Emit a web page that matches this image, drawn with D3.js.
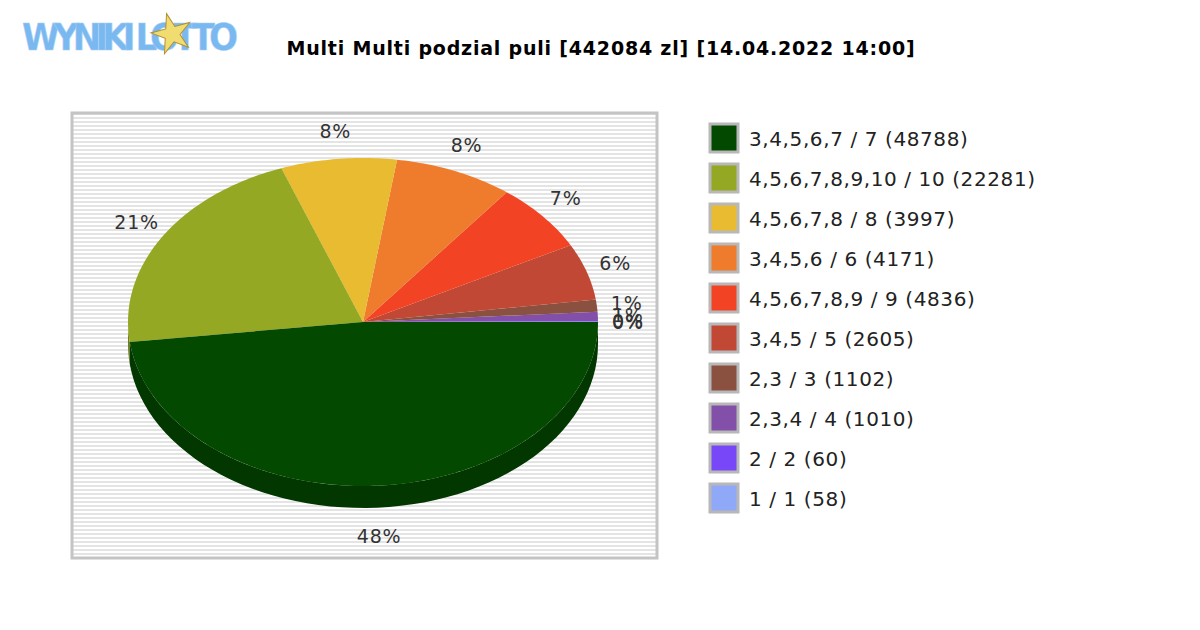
<!DOCTYPE html>
<html><head><meta charset="utf-8">
<script src="https://cdn.jsdelivr.net/npm/d3@7"></script>
<style>body{margin:0;background:#fff}svg{display:block}</style>
</head><body>
<svg id="c" width="1200" height="630"></svg>
<script>
const legendLabels = ["3,4,5,6,7 / 7 (48788)","4,5,6,7,8,9,10 / 10 (22281)","4,5,6,7,8 / 8 (3997)","3,4,5,6 / 6 (4171)","4,5,6,7,8,9 / 9 (4836)","3,4,5 / 5 (2605)","2,3 / 3 (1102)","2,3,4 / 4 (1010)","2 / 2 (60)","1 / 1 (58)"];
const shares = [48.3, 21.4, 8.0, 8.2, 6.8, 5.6, 1.2, 0.9, 0.05, 0.05];
const colors = ["#034a00","#95a824","#e8bb30","#ee7c2c","#f24424","#c04834","#8a5040","#8250a8","#7848f8","#90a8f8"];
const title = "Multi Multi podzial puli [442084 zl] [14.04.2022 14:00]";

const svg = d3.select("#c");
svg.append("text").attr("x",22).attr("y",50).attr("font-family","DejaVu Sans Condensed, DejaVu Sans").attr("font-weight","bold")
  .attr("font-size",38).attr("fill","#7ab8f0").attr("stroke","#a8d0f8").attr("stroke-width",0.5).attr("textLength",216).text("WYNIKI LOTTO");
svg.append("path").attr("d",d3.symbol(d3.symbolStar,500)()).attr("transform","translate(172,34) rotate(-15)").attr("fill","#f0dc70").attr("stroke","#b09030");
svg.append("text").attr("x",601).attr("y",55).attr("text-anchor","middle").attr("font-family","DejaVu Sans").attr("font-weight","bold").attr("font-size",19).attr("letter-spacing",0.8).text(title);

const bx=72, by=113, bw=585, bh=445;
for(let y=by; y<by+bh; y+=4){
  svg.append("rect").attr("x",bx).attr("y",y).attr("width",bw).attr("height",2).attr("fill","#e4e4e4");
}
svg.append("rect").attr("x",bx).attr("y",by).attr("width",bw).attr("height",bh).attr("fill","none").attr("stroke","#c4c4c4").attr("stroke-width",3);

const cx=363, cy=322, rx=235, ry=164, depth=22;
const total = d3.sum(shares);
const ang = d3.scaleLinear().domain([0,total]).range([0,2*Math.PI]);
const order = d3.range(shares.length).reverse();
let acc=0; const slices=[];
order.forEach(i=>{ slices.push({i, a0:ang(acc), a1:ang(acc+shares[i])}); acc+=shares[i]; });
const pt=(a,dy=0)=>[cx+rx*Math.cos(a), cy-ry*Math.sin(a)+dy];
const g=svg.append("g");
slices.forEach(s=>{
  const lo=Math.max(s.a0,Math.PI), hi=Math.min(s.a1,2*Math.PI);
  if(hi<=lo) return;
  const n=60, top=[], bot=[];
  for(let k=0;k<=n;k++){ const a=lo+(hi-lo)*k/n; top.push(pt(a)); bot.push(pt(a,depth)); }
  const p=top.concat(bot.reverse());
  g.append("path").attr("d",d3.line()(p)+"Z").attr("fill",d3.color(colors[s.i]).darker(0.8));
});
slices.forEach(s=>{
  const n=Math.max(4,Math.ceil((s.a1-s.a0)*60)); const p=[[cx,cy]];
  for(let k=0;k<=n;k++) p.push(pt(s.a0+(s.a1-s.a0)*k/n));
  g.append("path").attr("d",d3.line()(p)+"Z").attr("fill",colors[s.i]);
});
slices.forEach(s=>{
  const m=(s.a0+s.a1)/2;
  const x=cx+(rx+30)*Math.cos(m), y=cy-(ry+28)*Math.sin(m)+(Math.sin(m)<0?depth:0)+7;
  g.append("text").attr("x",x).attr("y",y).attr("text-anchor","middle").attr("font-family","DejaVu Sans").attr("font-size",19).attr("letter-spacing",0.8).attr("fill","#333")
    .text(Math.round(shares[s.i])+"%");
});

const lg=svg.append("g");
legendLabels.forEach((t,i)=>{
  const y=124+i*40;
  lg.append("rect").attr("x",710).attr("y",y).attr("width",28).attr("height",28).attr("fill",colors[i]).attr("stroke","#b8b8b8").attr("stroke-width",3);
  lg.append("text").attr("x",749).attr("y",y+22).attr("font-family","DejaVu Sans").attr("font-size",20).attr("letter-spacing",0.6).attr("fill","#222").text(t);
});
</script>
</body></html>
